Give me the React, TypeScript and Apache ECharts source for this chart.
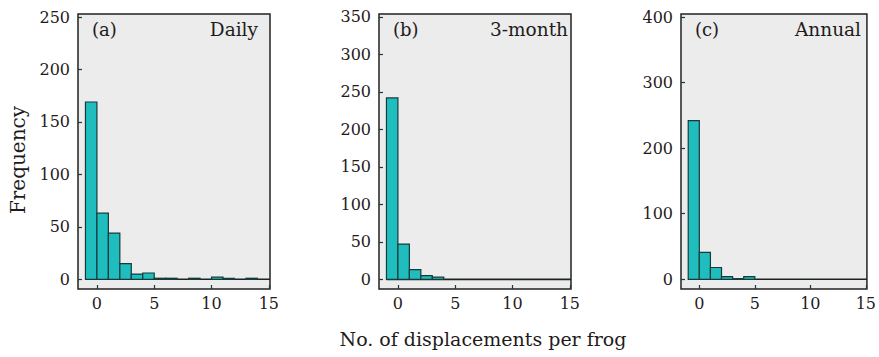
import React, { useEffect, useRef } from "react";
import * as echarts from "echarts";

// Histogram bins: each bin spans [start, start + 1)
const binStarts = [-1, 0, 1, 2, 3, 4, 5, 6, 7, 8, 9, 10, 11, 12, 13, 14];
const dailyCounts = [169, 63, 44, 15, 5, 6, 1, 1, 0, 1, 0, 2, 1, 0, 1, 0];
const threeMonthCounts = [242, 47, 13, 5, 3, 0, 0, 0, 0, 0, 0, 0, 0, 0, 0, 0];
const annualCounts = [242, 41, 18, 4, 1, 4, 0, 0, 0, 0, 0, 0, 0, 0, 0, 0];

const xTicks = [0, 5, 10, 15];
const dailyTicks = [0, 50, 100, 150, 200, 250];
const threeMonthTicks = [0, 50, 100, 150, 200, 250, 300, 350];
const annualTicks = [0, 100, 200, 300, 400];

const panelTags = ["(a)", "(b)", "(c)"];
const panelNames = ["Daily", "3-month", "Annual"];
const yLabel = "Frequency";
const xLabel = "No. of displacements per frog";

const X_MIN = -1.65;
const X_MAX = 15.1;

const FONT = "'DejaVu Serif', serif";
const TEXT = "#1f1b1c";
const BAR_FILL = "#1fbdbd";
const BAR_STROKE = "#173b3b";
const BG = "#ebeceb";

export default function App() {
  const ref = useRef<HTMLDivElement>(null);

  useEffect(() => {
    if (!ref.current) return;
    const chart = echarts.init(ref.current, null, { renderer: "svg" });

    const panels = [
      { counts: dailyCounts, ticks: dailyTicks, yMin: -9.25, yMax: 252.9, left: 78 },
      { counts: threeMonthCounts, ticks: threeMonthTicks, yMin: -12.9, yMax: 354, left: 379 },
      { counts: annualCounts, ticks: annualTicks, yMin: -14.8, yMax: 404.6, left: 681 },
    ];
    const gridW = 192;
    const gridTop = 14;
    const gridH = 275;

    const grids = panels.map((p) => ({
      left: p.left,
      top: gridTop,
      width: gridW,
      height: gridH,
      show: true,
      backgroundColor: BG,
      borderColor: "#222",
      borderWidth: 1.5,
    }));

    const xAxes = panels.map((p, i) => ({
      type: "value",
      gridIndex: i,
      position: "bottom",
      min: X_MIN,
      max: X_MAX,
      axisLine: { show: false, onZero: false },
      splitLine: { show: false },
      axisTick: {
        inside: true,
        length: 4,
        customValues: xTicks,
        lineStyle: { color: "#1d3b3b", width: 1.2 },
      },
      axisLabel: {
        customValues: xTicks,
        margin: 6,
        color: TEXT,
        fontFamily: FONT,
        fontSize: 16,
        showMinLabel: true,
        showMaxLabel: true,
      },
    }));

    const yAxes = panels.map((p, i) => ({
      type: "value",
      gridIndex: i,
      position: "left",
      min: p.yMin,
      max: p.yMax,
      axisLine: { show: false, onZero: false },
      splitLine: { show: false },
      axisTick: {
        inside: true,
        length: 4,
        customValues: p.ticks,
        lineStyle: { color: "#1d3b3b", width: 1.2 },
      },
      axisLabel: {
        customValues: p.ticks,
        margin: 8,
        color: TEXT,
        fontFamily: FONT,
        fontSize: 16,
        showMinLabel: true,
        showMaxLabel: true,
      },
    }));

    const series: any[] = [];
    panels.forEach((p, i) => {
      series.push({
        type: "line",
        xAxisIndex: i,
        yAxisIndex: i,
        data: [
          [binStarts[0], 0],
          [X_MAX, 0],
        ],
        symbol: "none",
        silent: true,
        lineStyle: { color: "#1e2424", width: 1.6 },
        z: 1,
      });
      series.push({
        type: "custom",
        xAxisIndex: i,
        yAxisIndex: i,
        z: 2,
        encode: { x: [0, 1], y: 2 },
        data: binStarts.map((s, k) => [s, s + 1, p.counts[k]]),
        renderItem: (params: any, api: any) => {
          const x0 = api.value(0);
          const x1 = api.value(1);
          const v = api.value(2);
          if (!v) return null;
          const a = api.coord([x0, v]);
          const b = api.coord([x1, 0]);
          return {
            type: "rect",
            shape: { x: a[0], y: a[1], width: b[0] - a[0], height: b[1] - a[1] },
            style: { fill: BAR_FILL, stroke: BAR_STROKE, lineWidth: 1.2 },
          };
        },
      });
    });

    const graphics: any[] = [];
    panels.forEach((p, i) => {
      graphics.push({
        type: "text",
        x: p.left + 14,
        y: 29,
        style: {
          text: panelTags[i],
          font: `18px ${FONT}`,
          fill: TEXT,
          align: "left",
          verticalAlign: "middle",
        },
      });
      const rightPad = i === 1 ? 3 : 12;
      graphics.push({
        type: "text",
        x: p.left + gridW - rightPad,
        y: 29,
        style: {
          text: panelNames[i],
          font: `18.5px ${FONT}`,
          fill: TEXT,
          align: "right",
          verticalAlign: "middle",
        },
      });
    });
    graphics.push({
      type: "text",
      x: 18,
      y: 160,
      rotation: Math.PI / 2,
      style: {
        text: yLabel,
        font: `20px ${FONT}`,
        fill: TEXT,
        align: "center",
        verticalAlign: "middle",
      },
    });
    graphics.push({
      type: "text",
      x: 483,
      y: 339,
      style: {
        text: xLabel,
        font: `19px ${FONT}`,
        fill: TEXT,
        align: "center",
        verticalAlign: "middle",
      },
    });

    chart.setOption({
      animation: false,
      backgroundColor: "#ffffff",
      grid: grids,
      xAxis: xAxes,
      yAxis: yAxes,
      series,
      graphic: graphics,
    });

    return () => chart.dispose();
  }, []);

  return (
    <div
      ref={ref}
      style={{ position: "fixed", left: 0, top: 0, width: 879, height: 357 }}
    />
  );
}
